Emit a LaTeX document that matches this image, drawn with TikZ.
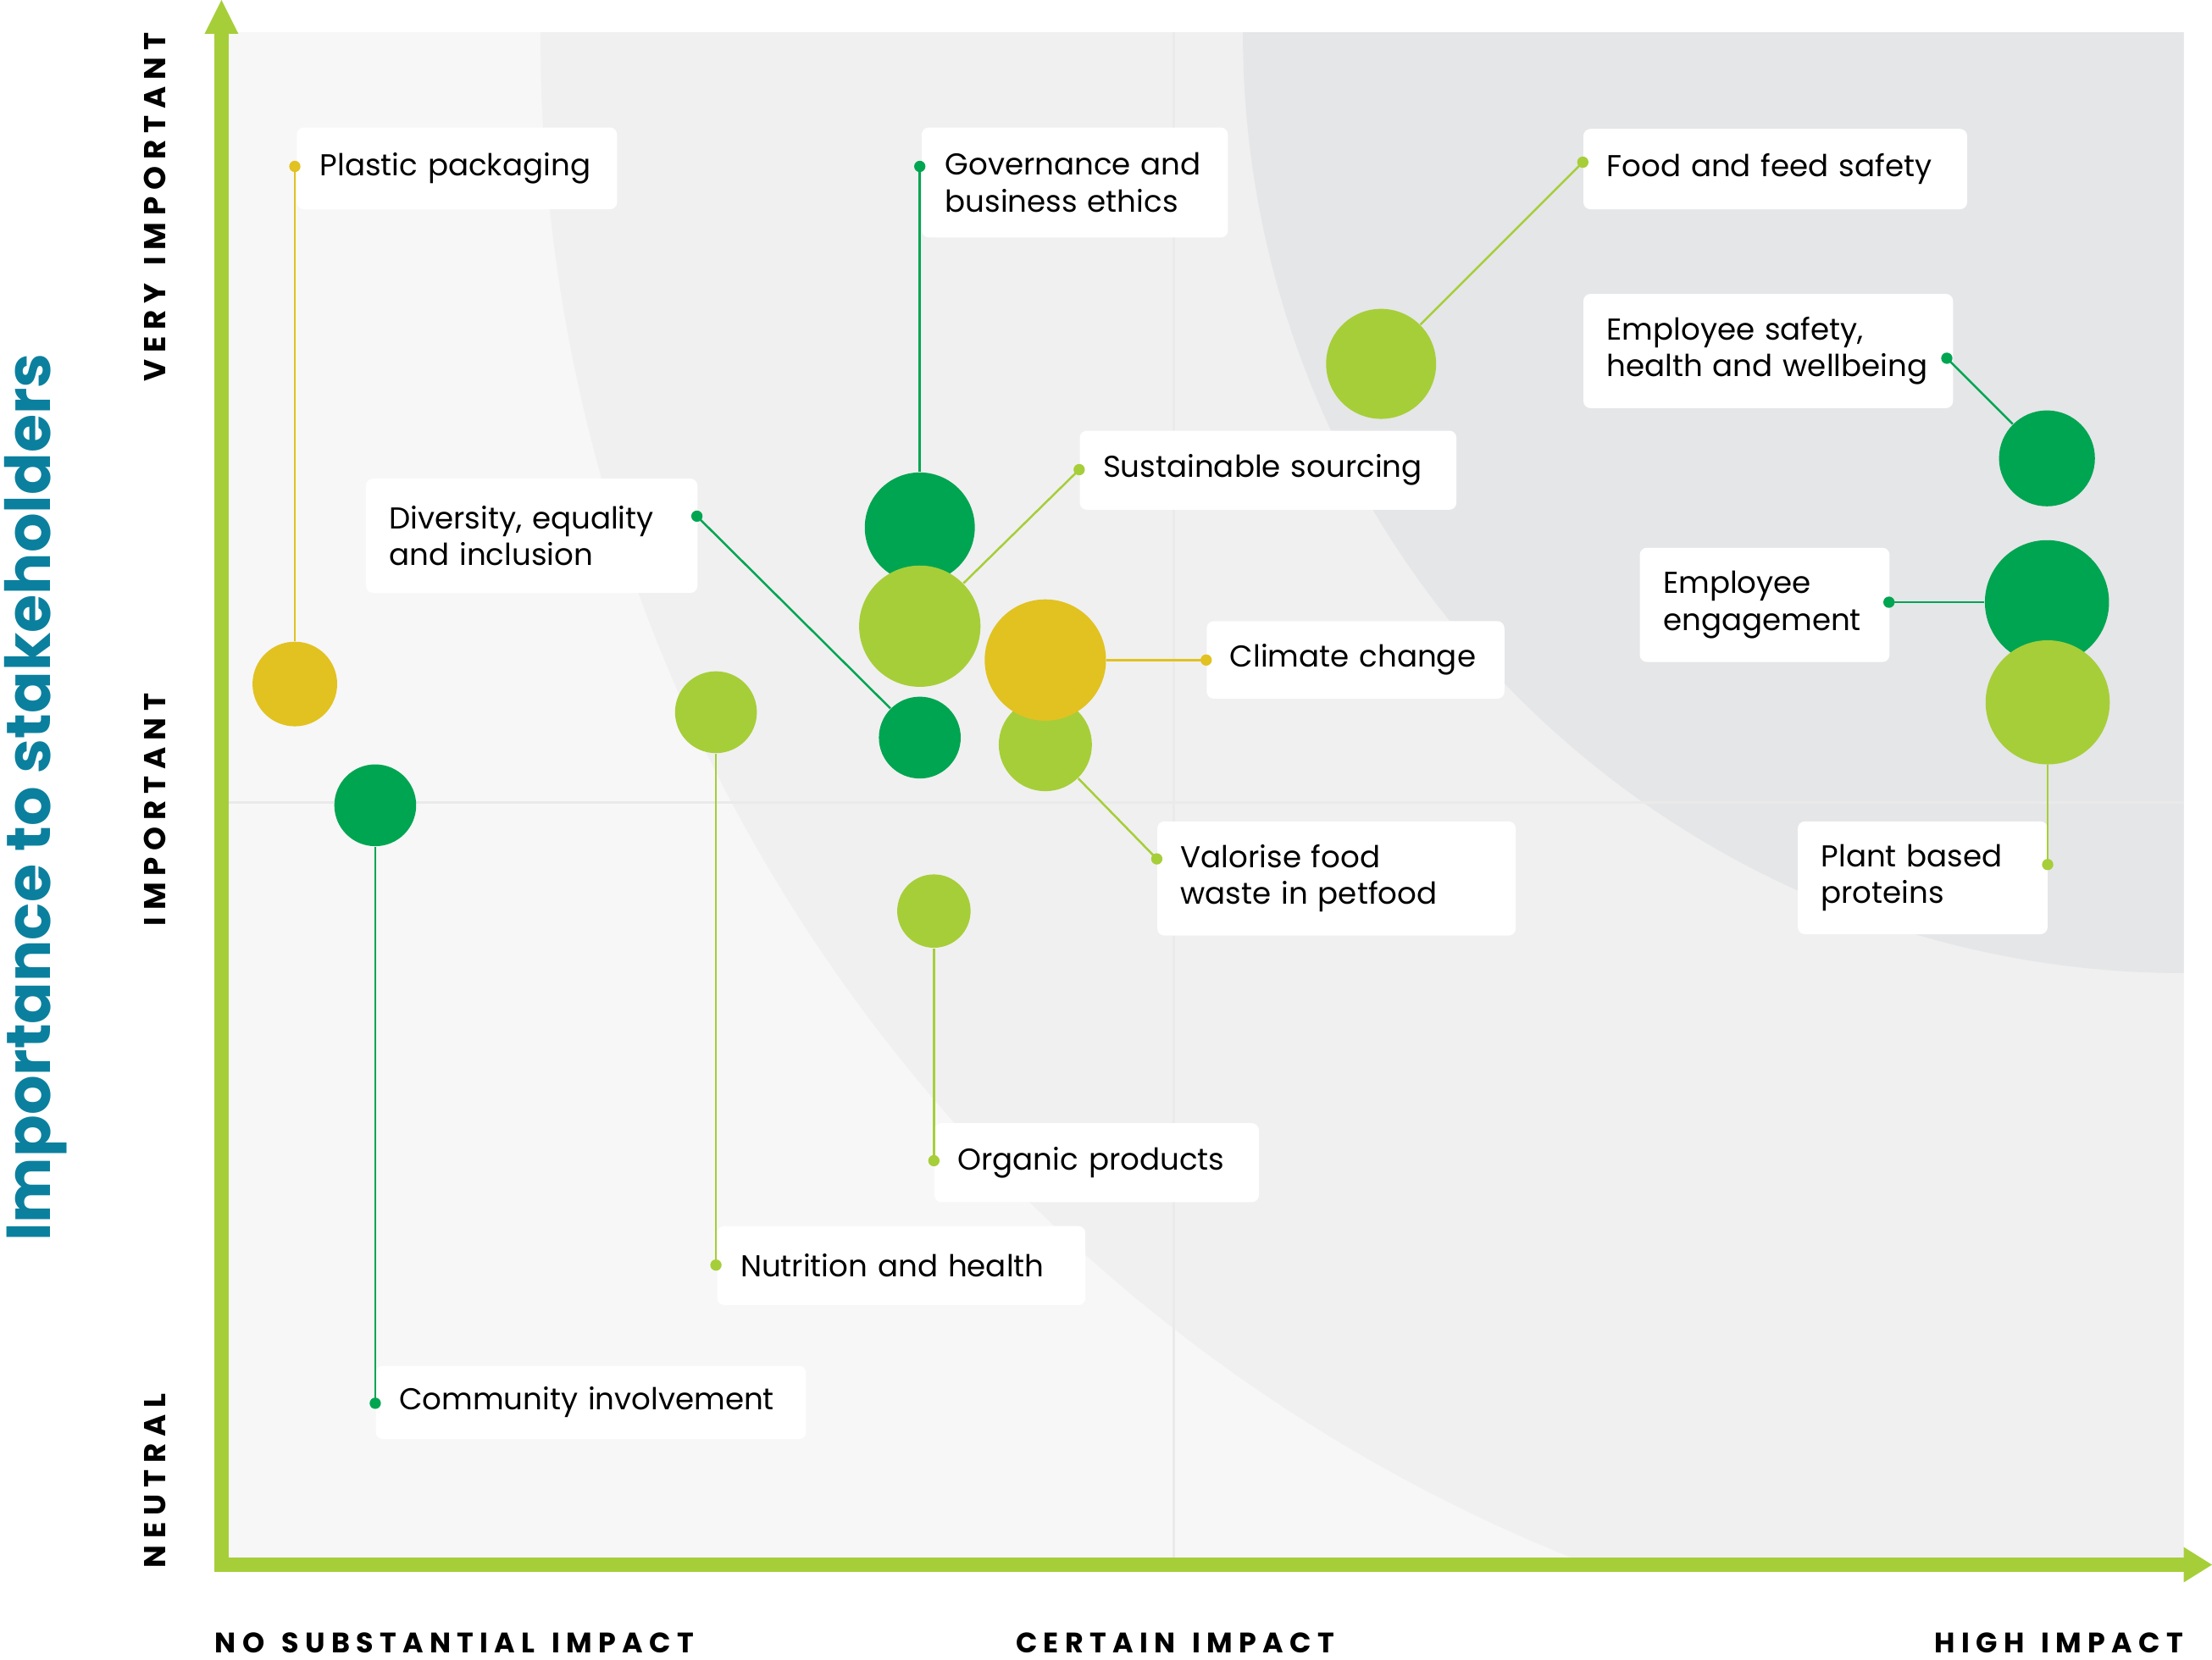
\documentclass[tikz,border=0pt]{standalone}
\usepackage{fontspec}
\setmainfont{Poppins}
\newfontfamily\capsfont[LetterSpace=22,WordSpace=1.4]{Poppins}
\definecolor{forest}{HTML}{00A551}
\definecolor{lime}{HTML}{A6CE39}
\definecolor{amber}{HTML}{E1C221}
\definecolor{titleblue}{HTML}{0B809E}
\definecolor{bgA}{HTML}{F7F7F7}
\definecolor{bgB}{HTML}{F0F0F0}
\definecolor{bgC}{HTML}{E5E6E8}
\definecolor{divider}{HTML}{EAEAEA}
\tikzset{
  bubble/.style={circle, inner sep=0pt, draw=none},
  tag/.style={fill=white, rounded corners=2.5pt, anchor=north west, inner xsep=8.25pt,
              inner ysep=0pt, align=left, font=\fontsize{10.7}{13}\selectfont},
  endpt/.style={circle, inner sep=0pt, minimum size=4pt},
  leader/.style={line width=0.75pt},
  axislbl/.style={inner sep=0pt, font=\capsfont\bfseries\fontsize{10}{12}\selectfont},
  sidelbl/.style={axislbl, rotate=90, font=\capsfont\bfseries\fontsize{10.7}{12}\selectfont}
}
\begin{document}
\begin{tikzpicture}[x=0.5pt, y=-0.5pt]
        \useasboundingbox (0,0) rectangle (1568,1177);
        % Draw the background zones
        \fill[bgA] (162,23) rectangle (1548,1110);
        \begin{scope}
            \clip (162,23) rectangle (1548,1110);
            \fill[bgB] (1548,23) circle (582.5pt);
            \fill[bgC] (1548,23) circle (333.5pt);
        \end{scope}
        \draw[divider, line width=1pt] (832,23) -- (832,1105);
        \draw[divider, line width=1pt] (162,569) -- (1548,569);
        % Draw the axes
        \fill[lime] (152,23) rectangle (162,1114.5);
        \fill[lime] (152,1104.5) rectangle (1548,1114.5);
        \fill[lime] (145,24) -- (169,24) -- (157,0) -- cycle;
        \fill[lime] (1548,1097) -- (1548,1122) -- (1568,1109.5) -- cycle;
        % Axis labels
        \node[rotate=90, anchor=base, inner sep=0pt, text=titleblue,
              font=\bfseries\fontsize{22}{22}\selectfont] (title) at (35.6,565.5) {Importance to stakeholders};
        \node[sidelbl] (yhi)  at (110,147)  {VERY IMPORTANT};
        \node[sidelbl] (ymid) at (110,574)  {IMPORTANT};
        \node[sidelbl] (ylo)  at (110,1050) {NEUTRAL};
        \node[axislbl, anchor=west] (xlo)  at (152,1165)  {NO SUBSTANTIAL IMPACT};
        \node[axislbl]              (xmid) at (833,1165)  {CERTAIN IMPACT};
        \node[axislbl, anchor=east] (xhi)  at (1548,1165) {HIGH IMPACT};
        % Draw the bubbles
        \node[bubble, fill=amber,  minimum size=30pt] (plastic)    at (209,485)    {};
        \node[bubble, fill=forest, minimum size=29pt] (community)  at (266,571)    {};
        \node[bubble, fill=lime,   minimum size=29pt] (nutrition)  at (507.5,505)  {};
        \node[bubble, fill=forest, minimum size=39pt] (governance) at (652,374)    {};
        \node[bubble, fill=lime,   minimum size=43pt] (sourcing)   at (652,444)    {};
        \node[bubble, fill=forest, minimum size=29pt] (diversity)  at (652,523)    {};
        \node[bubble, fill=lime,   minimum size=33pt] (valorise)   at (741,528)    {};
        \node[bubble, fill=amber,  minimum size=43pt] (climate)    at (741,468)    {};
        \node[bubble, fill=lime,   minimum size=26pt] (organic)    at (662,646)    {};
        \node[bubble, fill=lime,   minimum size=39pt] (food)       at (979,258)    {};
        \node[bubble, fill=forest, minimum size=34pt] (safety)     at (1451,325)   {};
        \node[bubble, fill=forest, minimum size=44pt] (engagement) at (1451,427)   {};
        \node[bubble, fill=lime,   minimum size=44pt] (plant)      at (1451.5,498) {};
        % Draw the label boxes
        \node[tag, text width=97pt,  minimum height=29pt]   (plasticL)    at (210,90)   {Plastic packaging};
        \node[tag, text width=92pt,  minimum height=39pt]   (governanceL) at (653,90)   {Governance and\\business ethics};
        \node[tag, text width=117pt, minimum height=28pt]   (sourcingL)   at (765,305)  {Sustainable sourcing};
        \node[tag, text width=119.5pt, minimum height=28.5pt] (foodL)     at (1122,91)  {Food and feed safety};
        \node[tag, text width=114.5pt, minimum height=40.5pt] (safetyL)   at (1122,208) {Employee safety,\\health and wellbeing};
        \node[tag, text width=72pt,  minimum height=40.5pt] (engagementL) at (1162,388) {Employee\\engagement};
        \node[tag, text width=72pt,  minimum height=40pt]   (plantL)      at (1274,582) {Plant based\\proteins};
        \node[tag, text width=101pt, minimum height=40.5pt] (diversityL)  at (259,339)  {Diversity, equality\\and inclusion};
        \node[tag, text width=89pt,  minimum height=27.5pt] (climateL)    at (855,440)  {Climate change};
        \node[tag, text width=110.5pt, minimum height=40.5pt] (valoriseL) at (820,582)  {Valorise food\\waste in petfood};
        \node[tag, text width=98.5pt, minimum height=28pt]  (organicL)    at (662,796)  {Organic products};
        \node[tag, text width=114pt, minimum height=28pt]   (nutritionL)  at (508,869)  {Nutrition and health};
        \node[tag, text width=136pt, minimum height=26pt]   (communityL)  at (266,968)  {Community involvement};
        % Draw the end points
        \node[endpt, fill=amber]  (plasticP)    at (209,118)    {};
        \node[endpt, fill=forest] (governanceP) at (652,118)    {};
        \node[endpt, fill=lime]   (sourcingP)   at (765,333)    {};
        \node[endpt, fill=lime]   (foodP)       at (1122,115)   {};
        \node[endpt, fill=forest] (safetyP)     at (1380,254)   {};
        \node[endpt, fill=forest] (engagementP) at (1339,427)   {};
        \node[endpt, fill=lime]   (plantP)      at (1451.5,613) {};
        \node[endpt, fill=forest] (diversityP)  at (494,366)    {};
        \node[endpt, fill=amber]  (climateP)    at (855,468)    {};
        \node[endpt, fill=lime]   (valoriseP)   at (820,609)    {};
        \node[endpt, fill=lime]   (organicP)    at (662,823)    {};
        \node[endpt, fill=lime]   (nutritionP)  at (507.5,897)  {};
        \node[endpt, fill=forest] (communityP)  at (266,995)    {};
        % Connect the end points with the bubbles
        \draw[leader, amber]  (plasticP.center)    -- (plastic);
        \draw[leader, forest] (governanceP.center) -- (governance);
        \draw[leader, lime]   (sourcingP.center)   -- (sourcing);
        \draw[leader, lime]   (foodP.center)       -- (food);
        \draw[leader, forest] (safetyP.center)     -- (safety);
        \draw[leader, forest] (engagementP.center) -- (engagement);
        \draw[leader, lime]   (plantP.center)      -- (plant);
        \draw[leader, forest] (diversityP.center)  -- (diversity);
        \draw[leader, amber]  (climateP.center)    -- (climate);
        \draw[leader, lime]   (valoriseP.center)   -- (valorise);
        \draw[leader, lime]   (organicP.center)    -- (organic);
        \draw[leader, lime]   (nutritionP.center)  -- (nutrition);
        \draw[leader, forest] (communityP.center)  -- (community);
\end{tikzpicture}
\end{document}
